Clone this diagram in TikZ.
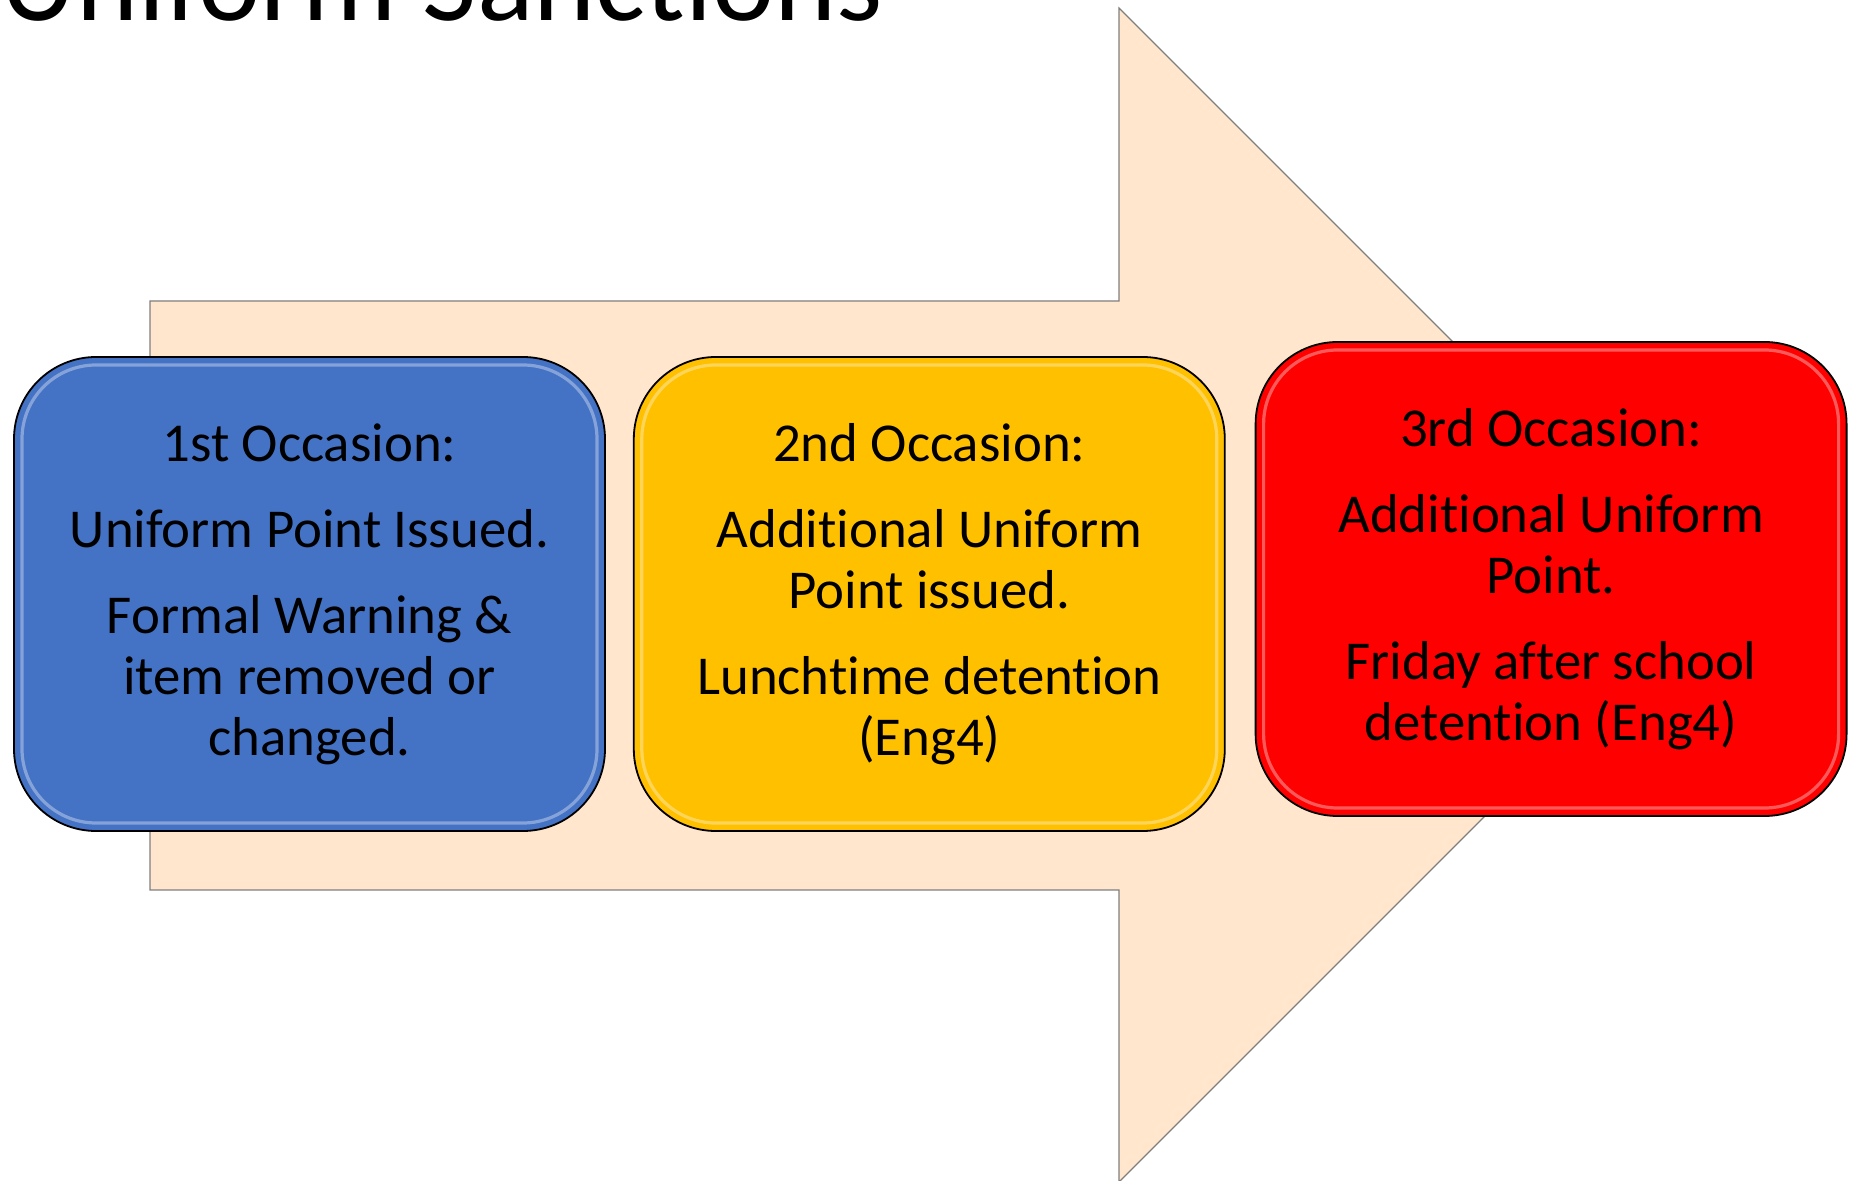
\documentclass[tikz,border=0pt]{standalone}
\usepackage{fontspec}
\setmainfont{Carlito}[Ligatures=NoCommon]
\usetikzlibrary{positioning}
\definecolor{stage_blue}{HTML}{4472C4}
\definecolor{stage_yellow}{HTML}{FFC000}
\definecolor{stage_red}{HTML}{FF0000}
\definecolor{arrow_peach}{HTML}{FFE6CC}
\definecolor{arrow_edge}{HTML}{7F7F7F}
\begin{document}
\begin{tikzpicture}[
	    x=0.5pt, y=-0.5pt,
	    titletext/.style={anchor=base west, inner sep=0pt, font=\fontsize{59}{64}\selectfont},
	    stagebox/.style={rectangle, rounded corners=41pt, draw=black, line width=0.9pt,
	        minimum width=295.5pt, minimum height=237pt, inner sep=0pt,
	        align=center, text=black, font=\fontsize{27.4}{30.5}\selectfont,
	        path picture={\draw[white, opacity=0.35, line width=1.6pt, rounded corners=37pt]
	            ([shift={(4pt,-4pt)}]path picture bounding box.north west) rectangle
	            ([shift={(-4pt,4pt)}]path picture bounding box.south east);}},
	    bluebox/.style={stagebox, fill=stage_blue},
	    yellowbox/.style={stagebox, fill=stage_yellow},
	    redbox/.style={stagebox, fill=stage_red},
	    bigarrow/.style={fill=arrow_peach, draw=arrow_edge, line width=0.6pt},
	]
        \useasboundingbox (0,0) rectangle (1849,1181);

        \node[titletext] (title) at (0,21) {Uniform Sanctions};

        \draw[bigarrow] (150,301) -- (1119,301) -- (1119,8) -- (1706,595)
            -- (1119,1182) -- (1119,890) -- (150,890) -- cycle;

        \node[bluebox] (first) at (309.5,594) {1st Occasion:\\[12.5pt]
            Uniform Point Issued.\\[12.5pt] Formal Warning \&\\ item removed or\\ changed.};
        \node[yellowbox, right=13.5pt of first] (second) {2nd Occasion:\\[12.5pt]
            Additional Uniform\\ Point issued.\\[12.5pt] Lunchtime detention\\ (Eng4)};
        \node[redbox, right=14.5pt of second, yshift=7.5pt] (third) {3rd Occasion:\\[12.5pt]
            Additional Uniform\\ Point.\\[12.5pt] Friday after school\\ detention (Eng4)};
	\end{tikzpicture}
\end{document}
